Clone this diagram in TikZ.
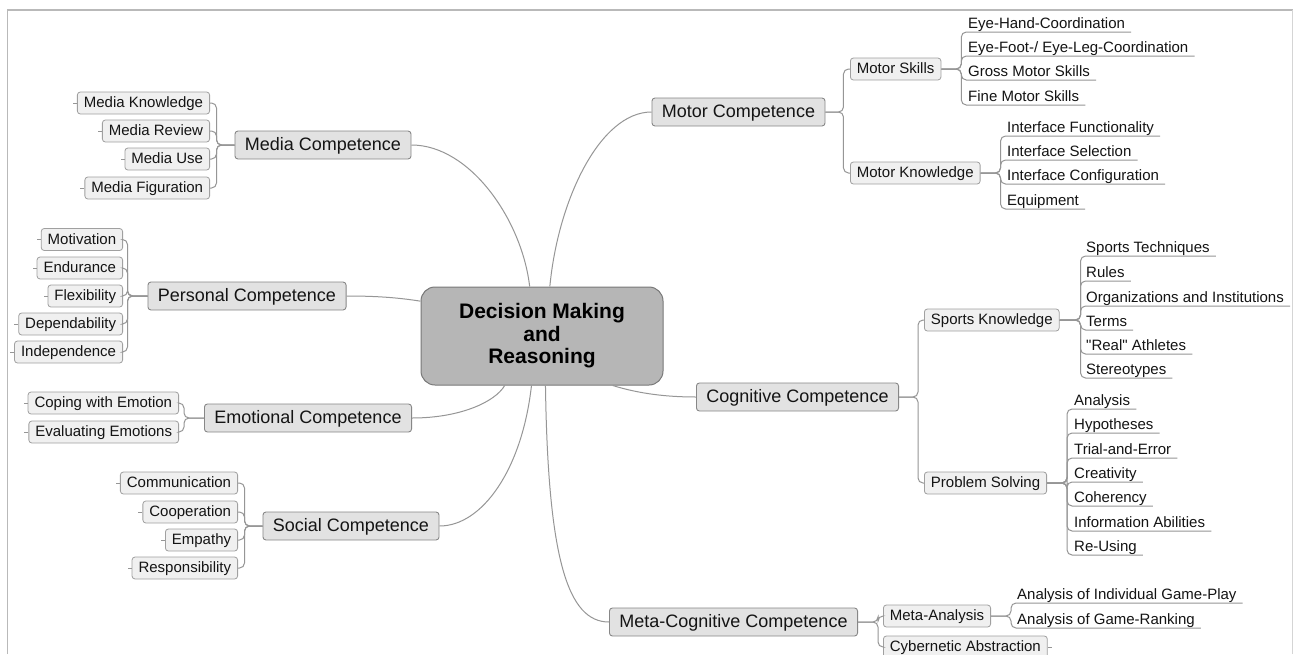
\documentclass[tikz,border=0pt]{standalone}
\usepackage{fontspec}
\setmainfont[Ligatures=TeXOff]{Liberation Sans}
\definecolor{conncol}{RGB}{150,150,150}
\definecolor{lonefill}{RGB}{226,226,226}
\definecolor{loneborder}{RGB}{135,135,135}
\definecolor{ltwofill}{RGB}{240,240,240}
\definecolor{ltwoborder}{RGB}{160,160,160}
\definecolor{cfill}{RGB}{182,182,182}
\definecolor{cborder}{RGB}{120,120,120}
\definecolor{framecol}{RGB}{185,185,185}
\definecolor{txt}{RGB}{20,20,20}
\begin{document}
\begin{tikzpicture}[x=1pt,y=-1pt,
  conn/.style={draw=conncol, line width=1pt},
  brk/.style={conn, rounded corners=5pt},
  tick/.style={draw=conncol, line width=0.8pt},
  lvone/.style={draw=loneborder, fill=lonefill, rounded corners=3pt, line width=0.9pt,
    minimum height=28pt, inner xsep=10pt, inner ysep=0pt, text=txt,
    font=\fontsize{18}{21}\selectfont, text height=13pt, text depth=2.5pt},
  lvtwo/.style={draw=ltwoborder, fill=ltwofill, rounded corners=3pt, line width=0.8pt,
    minimum height=22pt, inner xsep=6.5pt, inner ysep=0pt, text=txt,
    font=\fontsize{15}{18}\selectfont, text height=11pt, text depth=2pt},
  leaf/.style={inner sep=0pt, anchor=south west, text=txt,
    font=\fontsize{15}{18}\selectfont, text height=11pt, text depth=3.6pt},
  centre/.style={draw=cborder, fill=cfill, rounded corners=14pt, line width=1pt,
    minimum width=242pt, minimum height=98pt, align=center, text=black,
    font=\bfseries\fontsize{21}{22.5}\selectfont}
]
\useasboundingbox (0,0) rectangle (1293,654);
\fill[white] (0,0) rectangle (1293,654);
% frame
\draw[framecol, line width=1.6pt] (7.5,654) -- (7.5,10) -- (1293,10);
\draw[framecol!60, line width=1pt] (1292,10) -- (1292,654);

% centre
\node[centre] (c) at (542,336) {Decision Making\\and\\Reasoning};

% level one
\node[lvone] (mc) at (323,145) {Media Competence};
\node[lvone] (pc) at (247,296) {Personal Competence};
\node[lvone] (ec) at (308,418) {Emotional Competence};
\node[lvone] (sc) at (351,526) {Social Competence};
\node[lvone] (mot) at (738.5,112) {Motor Competence};
\node[lvone] (cog) at (797.5,397) {Cognitive Competence};
\node[lvone] (meta) at (733.5,622) {Meta-Cognitive Competence};

% main connectors
\draw[conn] (mc.east) .. controls (470,145) and (522,220) .. (c.104);
\draw[conn] (mot.west) .. controls (600,112) and (558,200) .. (c.81);
\draw[conn] (pc.east) .. controls (380,296) and (400,298) .. (c.164);
\draw[conn] (ec.east) .. controls (460,418) and (495,402) .. (c.233);
\draw[conn] (sc.east) .. controls (482,526) and (522,470) .. (c.258);
\draw[conn] (meta.west) .. controls (568,622) and (548,560) .. (c.274);
\draw[conn] (cog.west) .. controls (668,397) and (640,394) .. (c.325);

% left level two: media
\node[lvtwo, anchor=east] (m1) at (210,103) {Media Knowledge};
\node[lvtwo, anchor=east] (m2) at (210,131) {Media Review};
\node[lvtwo, anchor=east] (m3) at (210,159) {Media Use};
\node[lvtwo, anchor=east] (m4) at (210,188) {Media Figuration};
\foreach \n in {m1,m2,m3,m4}{
  \draw[brk] (mc.west) -- ++(-18,0) |- (\n.east);
  \draw[tick] (\n.west) -- ++(-4,0);
}
% personal
\node[lvtwo, anchor=east] (p1) at (123,239.5) {Motivation};
\node[lvtwo, anchor=east] (p2) at (123,268) {Endurance};
\node[lvtwo, anchor=east] (p3) at (123,296) {Flexibility};
\node[lvtwo, anchor=east] (p4) at (123,324) {Dependability};
\node[lvtwo, anchor=east] (p5) at (123,352) {Independence};
\foreach \n in {p1,p2,p3,p4,p5}{
  \draw[brk] (pc.west) -- ++(-20,0) |- (\n.east);
  \draw[tick] (\n.west) -- ++(-4,0);
}
% emotional
\node[lvtwo, anchor=east] (e1) at (179,403) {Coping with Emotion};
\node[lvtwo, anchor=east] (e2) at (179,432) {Evaluating Emotions};
\foreach \n in {e1,e2}{
  \draw[brk] (ec.west) -- ++(-20,0) |- (\n.east);
  \draw[tick] (\n.west) -- ++(-4,0);
}
% social
\node[lvtwo, anchor=east] (s1) at (238,483) {Communication};
\node[lvtwo, anchor=east] (s2) at (238,512) {Cooperation};
\node[lvtwo, anchor=east] (s3) at (238,540) {Empathy};
\node[lvtwo, anchor=east] (s4) at (238,568) {Responsibility};
\foreach \n in {s1,s2,s3,s4}{
  \draw[brk] (sc.west) -- ++(-18,0) |- (\n.east);
  \draw[tick] (\n.west) -- ++(-4,0);
}

% right level two
\node[lvtwo, anchor=west] (ms) at (850,69) {Motor Skills};
\node[lvtwo, anchor=west] (mk) at (850,173) {Motor Knowledge};
\foreach \n in {ms,mk}{\draw[brk] (mot.east) -- ++(18,0) |- (\n.west);}
\node[lvtwo, anchor=west] (sk) at (924,320) {Sports Knowledge};
\node[lvtwo, anchor=west] (ps) at (924,483) {Problem Solving};
\foreach \n in {sk,ps}{\draw[brk] (cog.east) -- ++(19,0) |- (\n.west);}
\node[lvtwo, anchor=west] (ma) at (883,616) {Meta-Analysis};
\node[lvtwo, anchor=west] (cy) at (883,647) {Cybernetic Abstraction};
\foreach \n in {ma,cy}{\draw[brk] (meta.east) -- ++(20,0) |- (\n.west);}
\draw[tick] (cy.east) -- ++(4,0);

% leaves: motor skills
\node[leaf] (a1) at (968,32) {Eye-Hand-Coordination};
\node[leaf] (a2) at (968,56) {Eye-Foot-/ Eye-Leg-Coordination};
\node[leaf] (a3) at (968,80) {Gross Motor Skills};
\node[leaf] (a4) at (968,105) {Fine Motor Skills};
\foreach \n in {a1,a2,a3,a4}{\draw[brk] (ms.east) -- ++(20,0) |- ([xshift=6pt]\n.south east);}
% motor knowledge
\node[leaf] (b1) at (1007,136) {Interface Functionality};
\node[leaf] (b2) at (1007,160) {Interface Selection};
\node[leaf] (b3) at (1007,184) {Interface Configuration};
\node[leaf] (b4) at (1007,209) {Equipment};
\foreach \n in {b1,b2,b3,b4}{\draw[brk] (mk.east) -- ++(20,0) |- ([xshift=6pt]\n.south east);}
% sports knowledge
\node[leaf] (k1) at (1086,256) {Sports Techniques};
\node[leaf] (k2) at (1086,281) {Rules};
\node[leaf] (k3) at (1086,306) {Organizations and Institutions};
\node[leaf] (k4) at (1086,330) {Terms};
\node[leaf] (k5) at (1086,354) {"Real" Athletes};
\node[leaf] (k6) at (1086,378) {Stereotypes};
\foreach \n in {k1,k2,k3,k4,k5,k6}{\draw[brk] (sk.east) -- ++(21,0) |- ([xshift=6pt]\n.south east);}
% problem solving
\node[leaf] (q1) at (1074,409) {Analysis};
\node[leaf] (q2) at (1074,433) {Hypotheses};
\node[leaf] (q3) at (1074,458) {Trial-and-Error};
\node[leaf] (q4) at (1074,482) {Creativity};
\node[leaf] (q5) at (1074,506) {Coherency};
\node[leaf] (q6) at (1074,531) {Information Abilities};
\node[leaf] (q7) at (1074,555) {Re-Using};
\foreach \n in {q1,q2,q3,q4,q5,q6,q7}{\draw[brk] (ps.east) -- ++(20,0) |- ([xshift=6pt]\n.south east);}
% meta-analysis
\node[leaf] (r1) at (1017,603) {Analysis of Individual Game-Play};
\node[leaf] (r2) at (1017,628) {Analysis of Game-Ranking};
\foreach \n in {r1,r2}{\draw[brk] (ma.east) -- ++(20,0) |- ([xshift=6pt]\n.south east);}
\end{tikzpicture}
\end{document}
